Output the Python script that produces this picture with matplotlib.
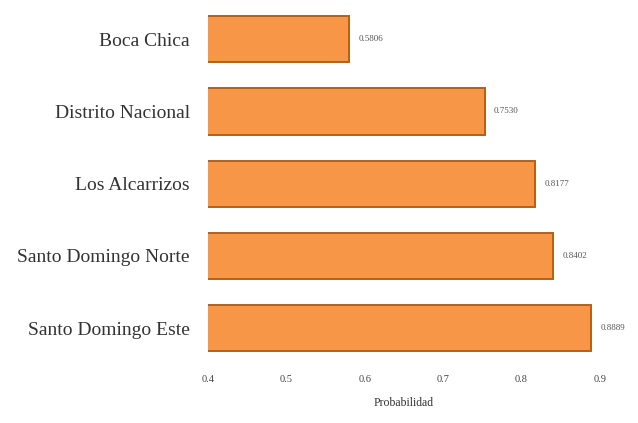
import numpy as np
import matplotlib.pyplot as plt

plt.rcParams['font.family'] = ['Liberation Serif', 'DejaVu Serif']

# Data
zonas = ['Santo Domingo Este', 'Santo Domingo Norte', 'Los Alcarrizos',
         'Distrito Nacional', 'Boca Chica']
prob = [0.8889, 0.8402, 0.8177, 0.7530, 0.5806]
ticks = [0.4, 0.5, 0.6, 0.7, 0.8, 0.9]

fig, ax = plt.subplots(figsize=(6.38, 4.23), dpi=100)
fig.subplots_adjust(left=0.326, right=0.94, top=0.984, bottom=0.139)

y = np.arange(len(zonas))
ax.barh(y, prob, height=0.64, left=0, color='#F79646',
        edgecolor='#B0601C', linewidth=1.4)

for yi, p in zip(y, prob):
    ax.text(p + 0.012, yi, f'{p:.4f}', va='center', ha='left',
            fontsize=6.5, color='#555555')

ax.set_xlim(0.4, 0.9)
ax.set_ylim(-0.5, len(zonas) - 0.55)
ax.set_xticks(ticks)
ax.set_xticklabels([f'{t:.1f}' for t in ticks], fontsize=7.5, color='#444444')
ax.set_yticks(y)
ax.set_yticklabels(zonas, fontsize=14, color='#333333')
ax.tick_params(axis='x', length=0, pad=8)
ax.tick_params(axis='y', length=0, pad=13)
ax.set_xlabel('Probabilidad', fontsize=8.5, color='#333333', labelpad=9)

for s in ax.spines.values():
    s.set_visible(False)

plt.savefig('out.png')
